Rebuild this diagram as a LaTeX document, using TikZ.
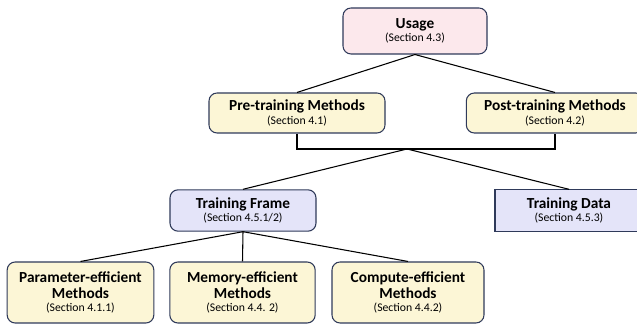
\documentclass[tikz,border=0pt]{standalone}
\usepackage{fontspec}
\setmainfont{Carlito}
\usepackage{tikz}
\usetikzlibrary{calc}

\newcommand{\ttl}[1]{{\fontsize{11.5}{13}\selectfont\bfseries #1}}
\newcommand{\sect}[1]{{\fontsize{8.8}{10}\selectfont (Section #1)}}

\begin{document}
\begin{tikzpicture}[x=0.75pt, y=-0.75pt]
        \tikzset{box/.style = {shape=rectangle, draw={rgb,255:red,47;green,58;blue,90}, line width=0.8pt, rounded corners=6pt, align=center, inner sep=0pt}}
        \tikzset{pinkbox/.style = {box, fill={rgb,255:red,252;green,232;blue,236}}}
        \tikzset{yellowbox/.style = {box, fill={rgb,255:red,252;green,246;blue,214}}}
        \tikzset{bluebox/.style = {box, fill={rgb,255:red,228;green,228;blue,249}}}
        \tikzset{edge/.style = {-, line width=0.8pt}}
        \clip (0, 0) rectangle (637, 327);

        \node[pinkbox, minimum width=108pt, minimum height=34.5pt] (usage) at (415, 31) {\ttl{Usage}\\[-2pt]\sect{4.3}};
        \node[yellowbox, minimum width=132pt, minimum height=30pt] (pre) at (297, 113) {\ttl{Pre-training Methods}\\[-2pt]\sect{4.1}};
        \node[yellowbox, minimum width=133pt, minimum height=30pt] (post) at (555, 113) {\ttl{Post-training Methods}\\[-2pt]\sect{4.2}};
        \node[bluebox, minimum width=109.5pt, minimum height=31pt] (frame) at (243, 210.5) {\ttl{Training Frame}\\[-2pt]\sect{4.5.1/2}};
        \node[bluebox, sharp corners, minimum width=111pt, minimum height=31pt] (data) at (569, 210.5) {\ttl{Training Data}\\[-2pt]\sect{4.5.3}};
        \node[yellowbox, minimum width=110pt, minimum height=45.75pt] (param) at (80.5, 292.5) {\ttl{Parameter-efficient}\\\ttl{Methods}\\[-2pt]\sect{4.1.1}};
        \node[yellowbox, minimum width=109pt, minimum height=45.75pt] (memory) at (242.5, 292.5) {\ttl{Memory-efficient}\\\ttl{Methods}\\[-2pt]\sect{4.4. 2}};
        \node[yellowbox, minimum width=114pt, minimum height=45.75pt] (compute) at (408, 292.5) {\ttl{Compute-efficient}\\\ttl{Methods}\\[-2pt]\sect{4.4.2}};
        \coordinate (join) at (407, 149);

        \draw[edge] (usage.south) to (pre.north);
        \draw[edge] (usage.south) to (post.north);
        \draw[edge] (pre.south) |- (join) -| (post.south);
        \draw[edge] (join) to (frame.north);
        \draw[edge] (join) to (data.north);
        \draw[edge] (frame.south) to (param.north);
        \draw[edge] (frame.south) to (memory.north);
        \draw[edge] (frame.south) to (compute.north);
      \end{tikzpicture}
\end{document}
